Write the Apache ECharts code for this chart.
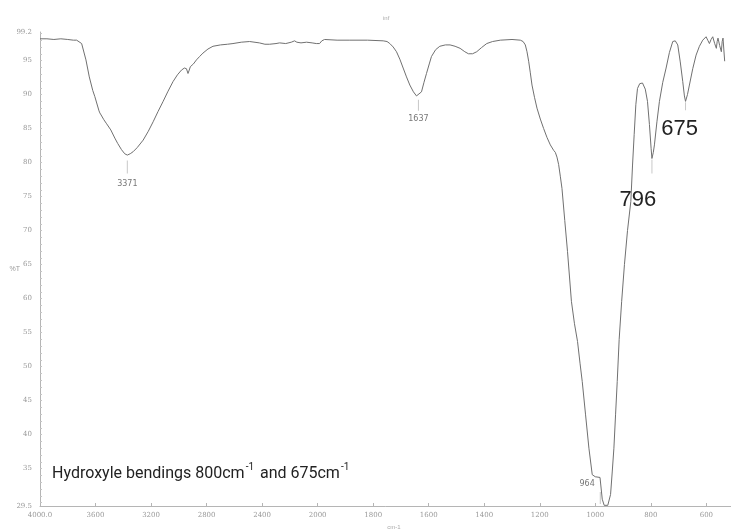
<!DOCTYPE html>
<html>
<head>
<meta charset="utf-8">
<script src="https://cdn.jsdelivr.net/npm/echarts@6/dist/echarts.min.js"></script>
<style>html,body{margin:0;padding:0;background:#fff}#c{width:731px;height:529px}</style>
</head>
<body>
<div id="c"></div>
<script>
// Wavenumber (cm-1) and %T
const wavenumbers = [4000,3950,3900,3850,3800,3760,3736,3700,3669,3645,3620,3605,3575,3569,3560,3540,3520,3490,3461,3440,3413,3390,3371,3350,3329,3300,3257,3220,3185,3150,3113,3080,3042,3010,2981,2960,2945,2934,2925,2917,2895,2873,2865,2850,2826,2790,2754,2700,2650,2610,2550,2490,2420,2380,2346,2300,2274,2230,2190,2166,2150,2120,2080,2040,2010,1993,1985,1975,1930,1884,1820,1764,1750,1740,1728,1716,1704,1692,1680,1668,1655,1644,1637,1626,1617,1608,1598,1590,1575,1560,1540,1523,1505,1487,1470,1457,1442,1427,1410,1391,1370,1342,1300,1270,1260,1252,1246,1240,1234,1228,1219,1210,1198,1186,1174,1162,1150,1144,1138,1132,1126,1120,1110,1100,1086,1075,1064,1055,1047,1035,1023,1011,1000,993,983,975,968,964,955,945,939,933,927,921,914,905,895,884,872,866,860,854,848,840,830,820,812,805,799,796,791,787,778,769,757,745,733,721,712,703,694,685,679,675,668,661,649,637,625,613,601,595,589,583,577,570,564,561,558,552,546,543,540,534];
const transmittance = [98.2,98.2,98.1,98.2,98.1,98.0,98.0,97.5,95.1,92.6,90.6,89.7,87.6,87.3,87.0,86.3,85.7,84.8,83.6,82.8,81.9,81.3,81.1,81.3,81.6,82.2,83.3,84.6,86.0,87.5,89.0,90.4,91.9,92.9,93.6,93.9,93.8,93.1,93.6,94.1,94.5,95.1,94.9,95.6,96.1,96.7,97.1,97.3,97.4,97.5,97.7,97.8,97.6,97.4,97.4,97.5,97.6,97.5,97.7,97.9,97.7,97.6,97.7,97.6,97.5,97.5,97.9,98.1,98.0,98.0,98.0,97.9,97.8,97.5,97.0,96.3,95.2,93.9,92.6,91.4,90.4,89.8,89.6,90.4,91.8,93.1,94.5,95.6,96.6,97.1,97.3,97.3,97.1,96.8,96.3,96.0,96.0,96.3,96.9,97.5,97.8,98.0,98.1,98.0,97.8,97.3,96.3,94.9,93.2,91.4,89.6,88.0,86.4,85.0,83.7,82.6,81.8,81.5,80.8,79.7,78.0,76.2,71.5,66.9,59.6,56.3,53.7,50.5,47.8,42.9,38.0,34.1,33.8,33.8,33.7,30.5,29.6,29.5,29.6,31.2,34.5,38.0,42.9,47.8,54.0,59.6,65.0,70.0,74.3,79.5,84.1,88.5,90.9,91.6,91.7,90.8,89.0,85.6,82.1,80.6,81.5,82.6,86.0,89.0,91.8,93.9,96.2,97.8,97.9,97.3,94.8,91.9,89.8,89.0,90.0,91.4,93.8,95.8,97.1,98.0,98.5,98.0,97.5,98.1,98.5,97.5,96.8,97.8,98.3,97.2,96.3,97.8,98.3,94.9];
const xTickLabels = [4000,3600,3200,2800,2400,2000,1800,1600,1400,1200,1000,800,600,450];
const yTickLabels = [29.5,35,40,45,50,55,60,65,70,75,80,85,90,95,99.2];
const peakLabels = [3371,1637,964,796,675];
const yMin = 29.5, yMax = 99.2;

// Instrument scale change at 2000 cm-1: above it, the axis is compressed by 2
const toAxis = w => w > 2000 ? 2000 + (w - 2000) / 2 : w;
const fromAxis = v => v > 2000 ? 2000 + (v - 2000) * 2 : v;

const seriesData = wavenumbers.map((w, i) => [toAxis(w), transmittance[i]]);

const smallPeak = {
  symbol: 'rect', symbolSize: [1, 11], itemStyle: {color: '#c8c8c8'},
  label: {show: true, position: 'bottom', distance: 3, color: '#777', fontSize: 8, fontFamily: 'DejaVu Sans'}
};
const peakStyles = {
  3371: {symbolSize: [1, 13], symbolOffset: [0, 12], label: {offset: [0, 3]}},
  1637: {symbolOffset: [0, 8], label: {offset: [0, 1]}},
  964: {symbolSize: [1, 12], symbolOffset: [-5, -8], label: {position: 'left', offset: [-2, -14]}},
  796: {symbolSize: [1, 14], symbolOffset: [0, 8], label: {position: 'bottom', offset: [-14, 12], fontSize: 22, color: '#222', fontFamily: 'Liberation Sans'}},
  675: {symbolSize: [1, 8], symbolOffset: [0, 5], label: {position: 'bottom', offset: [-6, 5], fontSize: 22, color: '#222', fontFamily: 'Liberation Sans'}}
};
const markData = peakLabels.map(p => {
  const i = wavenumbers.indexOf(p);
  const st = peakStyles[p];
  return {
    coord: [toAxis(p), transmittance[i]],
    symbol: smallPeak.symbol,
    symbolSize: st.symbolSize || smallPeak.symbolSize,
    symbolOffset: st.symbolOffset,
    itemStyle: smallPeak.itemStyle,
    label: Object.assign({}, smallPeak.label, st.label, {formatter: String(p)})
  };
});

const minorY = [];
for (let v = 30; v <= 99; v += 1) minorY.push(v);

const chart = echarts.init(document.getElementById('c'), null, {renderer: 'canvas'});
chart.setOption({
  backgroundColor: '#fff',
  animation: false,
  title: {text: 'inf', left: 378, top: 10, textStyle: {fontSize: 6, color: '#aaa', fontWeight: 'normal'}},
  grid: {left: 40, right: -17, top: 32, bottom: 23, containLabel: false, outerBoundsMode: 'none'},
  xAxis: {
    type: 'value', inverse: true, min: toAxis(450), max: toAxis(4000),
    name: 'cm-1', nameLocation: 'middle', nameGap: 18, nameMoveOverlap: false,
    nameTextStyle: {fontSize: 6, color: '#aaa'},
    axisLine: {show: true, lineStyle: {color: '#b5b5b5', width: 1}},
    axisTick: {show: true, customValues: xTickLabels.map(toAxis), length: 3, inside: true, lineStyle: {color: '#b5b5b5'}},
    axisLabel: {
      customValues: xTickLabels.map(toAxis), margin: 6, fontSize: 7, color: '#999', fontFamily: 'DejaVu Serif',
      formatter: v => { const w = Math.round(fromAxis(v)); return (w === 4000 || w === 450) ? w.toFixed(1) : String(w); }
    },
    splitLine: {show: false}
  },
  yAxis: {
    type: 'value', min: yMin, max: yMax,
    name: '%T', nameLocation: 'middle', nameGap: 20, nameRotate: 0, nameMoveOverlap: false,
    nameTextStyle: {fontSize: 7, color: '#999'},
    axisLine: {show: true, lineStyle: {color: '#b5b5b5', width: 1}},
    axisTick: {show: true, customValues: minorY, length: 2, inside: true, lineStyle: {color: '#c5c5c5'}},
    axisLabel: {
      customValues: yTickLabels, margin: 8, fontSize: 7, color: '#999', fontFamily: 'DejaVu Serif',
      formatter: v => (Math.abs(v - Math.round(v)) > 1e-6 ? v.toFixed(1) : String(Math.round(v)))
    },
    splitLine: {show: false}
  },
  series: [{
    type: 'line', data: seriesData, showSymbol: false, symbol: 'none', smooth: false,
    lineStyle: {color: '#707070', width: 1}, clip: true,
    markPoint: {data: markData}
  }],
  graphic: [{
    type: 'text', left: 52, top: 462,
    style: {
      text: '{n|Hydroxyle bendings 800cm}{s|-1}{n| and 675cm}{s|-1}',
      rich: {
        n: {fontSize: 16, fontFamily: 'Roboto', fill: '#222', lineHeight: 20, verticalAlign: 'bottom'},
        s: {fontSize: 10, fontFamily: 'Roboto', fill: '#222', lineHeight: 20, verticalAlign: 'top', padding: [0, 2, 0, 1]}
      }
    }
  }]
});
</script>
</body>
</html>
